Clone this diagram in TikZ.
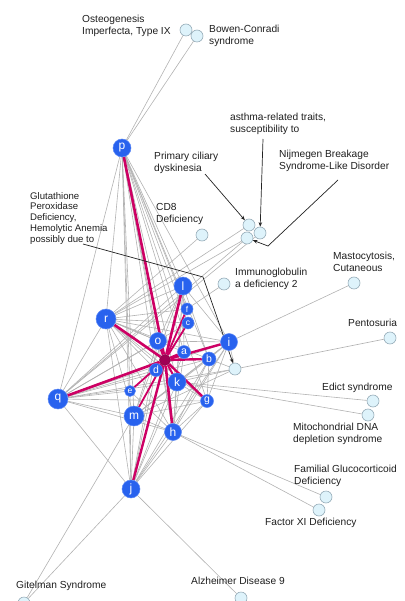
\documentclass[tikz,border=0pt]{standalone}
\usepackage{fontspec}
\setmainfont{Liberation Sans}
\usetikzlibrary{arrows.meta}
\pgfdeclarelayer{bg}
\pgfdeclarelayer{mid}
\pgfsetlayers{bg,mid,main}
\definecolor{geneblue}{RGB}{40,98,238}
\definecolor{geneedge}{RGB}{90,135,245}
\definecolor{hubc}{RGB}{160,0,85}
\definecolor{magc}{RGB}{205,0,100}
\definecolor{lightfill}{RGB}{222,243,251}
\definecolor{lightdraw}{RGB}{150,172,184}
\definecolor{grayedge}{RGB}{178,178,178}
\definecolor{arrc}{RGB}{35,35,35}
\definecolor{txt}{RGB}{30,30,30}
\tikzset{
  gene/.style={circle,fill=geneblue,draw=geneedge,line width=0.5pt,text=white,inner sep=0pt,minimum size=#1},
  hubnode/.style={circle,fill=hubc,draw=hubc!80!black,line width=0.4pt,inner sep=0pt,minimum size=11pt},
  dis/.style={circle,fill=lightfill,draw=lightdraw,line width=0.6pt,inner sep=0pt,minimum size=12pt},
  lbl/.style={font=\fontsize{10.2}{12}\selectfont,text=txt,align=left,anchor=north west,inner sep=0pt},
  gedge/.style={draw=grayedge,line width=0.6pt},
  medge/.style={draw=magc,line width=#1},
  arr/.style={draw=arrc,line width=0.7pt,-{Stealth[length=4.5pt,width=3.5pt]}},
  big/.style={font=\fontsize{12}{12}\selectfont},
  mdm/.style={font=\fontsize{10.5}{10.5}\selectfont},
  sml/.style={font=\fontsize{8.5}{8.5}\selectfont}
}
\begin{document}
\begin{tikzpicture}[x=1pt,y=-1pt]
\useasboundingbox (0,0) rectangle (404,601);
% genes
\node[gene=18pt,big] (p) at (122,148) {p};
\node[gene=18pt,big] (l) at (183,286) {l};
\node[gene=12pt,sml] (f) at (187,309) {f};
\node[gene=12pt,sml] (c) at (188,323) {c};
\node[gene=20pt,big] (r) at (106,319) {r};
\node[gene=17pt,big] (o) at (158,341) {o};
\node[gene=13pt,mdm] (a) at (184,352) {a};
\node[gene=17pt,big] (i) at (229,342) {i};
\node[gene=14pt,mdm] (b) at (209,359) {b};
\node[hubnode] (z) at (165,360) {};
\node[gene=13pt,mdm] (d) at (156,370) {d};
\node[gene=18pt,big] (k) at (177,382) {k};
\node[gene=11pt,sml] (e) at (130,391) {e};
\node[gene=13pt,mdm] (g) at (207,401) {g};
\node[gene=20pt,big] (q) at (58,399) {q};
\node[gene=20pt,big] (m) at (134,416) {m};
\node[gene=17pt,big] (h) at (173,432) {h};
\node[gene=18pt,big] (j) at (131,489) {j};
% disease nodes
\node[dis] (osteo) at (186,30) {};
\node[dis] (bowen) at (197,36) {};
\node[dis] (cilia) at (249,225) {};
\node[dis] (asthma) at (260,233) {};
\node[dis] (nijm) at (247,238) {};
\node[dis] (cd8) at (202,235) {};
\node[dis] (immun) at (224,284) {};
\node[dis] (masto) at (354,283) {};
\node[dis] (pento) at (390,338) {};
\node[dis] (glut) at (235,369) {};
\node[dis] (edict) at (373,401) {};
\node[dis] (mito) at (368,415) {};
\node[dis] (famil) at (326,497) {};
\node[dis] (fxi) at (319,510) {};
\node[dis] (gitel) at (24,603) {};
\node[dis] (alzh) at (241,598) {};
% labels
\node[lbl] (tosteo) at (82,15) {Osteogenesis\\Imperfecta, Type IX};
\node[lbl] (tbowen) at (209,25) {Bowen-Conradi\\syndrome};
\node[lbl] (tasthma) at (230,113) {asthma-related traits,\\susceptibility to};
\node[lbl] (tcilia) at (154,152) {Primary ciliary\\dyskinesia};
\node[lbl] (tnijm) at (279,150) {Nijmegen Breakage\\Syndrome-Like Disorder};
\node[lbl] (tcd8) at (156,203) {CD8\\Deficiency};
\node[lbl] (timmun) at (235,268) {Immunoglobulin\\a deficiency 2};
\node[lbl] (tmasto) at (333,252) {Mastocytosis,\\Cutaneous};
\node[lbl,font=\fontsize{9.6}{10.75}\selectfont] (tglut) at (30,192) {Glutathione\\Peroxidase\\Deficiency,\\Hemolytic Anemia\\possibly due to};
\node[lbl] (tpento) at (348,319) {Pentosuria};
\node[lbl] (tedict) at (322,383) {Edict syndrome};
\node[lbl] (tmito) at (293,423) {Mitochondrial DNA\\depletion syndrome};
\node[lbl] (tfamil) at (294,465) {Familial Glucocorticoid\\Deficiency};
\node[lbl] (tfxi) at (265,518) {Factor XI Deficiency};
\node[lbl] (tgitel) at (16,581) {Gitelman Syndrome};
\node[lbl] (talzh) at (191,577) {Alzheimer Disease 9};
% arrow anchor points
\coordinate (s1) at (205,174);
\coordinate (s2) at (263,139);
\coordinate (s3) at (338,180);
\coordinate (b3) at (268,246);
\coordinate (s4) at (83,244);
\coordinate (b4) at (203,277);
\begin{pgfonlayer}{bg}
\foreach \u/\v in {p/q,p/r,p/m,p/j,p/e,p/d,p/o,p/l,p/h,p/k,p/g,p/b,p/i,p/a,p/c,p/f,
  r/o,r/a,r/i,r/b,r/k,r/d,r/g,r/c,r/l,r/f,r/m,r/h,r/j,r/q,
  q/o,q/a,q/b,q/i,q/k,q/d,q/e,q/m,q/h,q/j,q/l,q/g,q/c,
  j/m,j/h,j/k,j/g,j/b,j/i,j/a,j/o,j/d,j/e,j/l,
  m/h,m/k,m/g,m/b,m/i,m/l,m/o,
  h/k,h/g,h/b,h/i,h/a,h/o,h/l,h/e,
  l/i,l/b,l/a,l/k,l/o,i/b,i/k,i/g,i/o,g/b,g/k,
  osteo/p,bowen/p,cilia/r,nijm/r,nijm/q,asthma/q,cd8/r,immun/f,masto/i,
  pento/glut,glut/b,glut/k,glut/i,glut/q,glut/m,edict/k,mito/k,
  famil/h,fxi/h,gitel/j,gitel/m,alzh/j}
  \draw[gedge] (\u) -- (\v);
\end{pgfonlayer}
\begin{pgfonlayer}{mid}
\foreach \v/\w in {p/2.6,l/2.6,f/1.8,c/1.8,r/2.6,o/2.6,a/2.4,i/2.4,b/2.4,d/1.8,k/2.0,e/1.8,g/2.4,q/2.6,m/1.8,h/2.6,j/2.4}
  \draw[medge=\w pt] (z) -- (\v);
\draw[arr] (s1) -- (cilia);
\draw[arr] (s2) -- (asthma);
\draw[arr] (s3) -- (b3) -- (nijm);
\draw[arr] (s4) -- (b4) -- (glut);
\end{pgfonlayer}
\end{tikzpicture}
\end{document}
